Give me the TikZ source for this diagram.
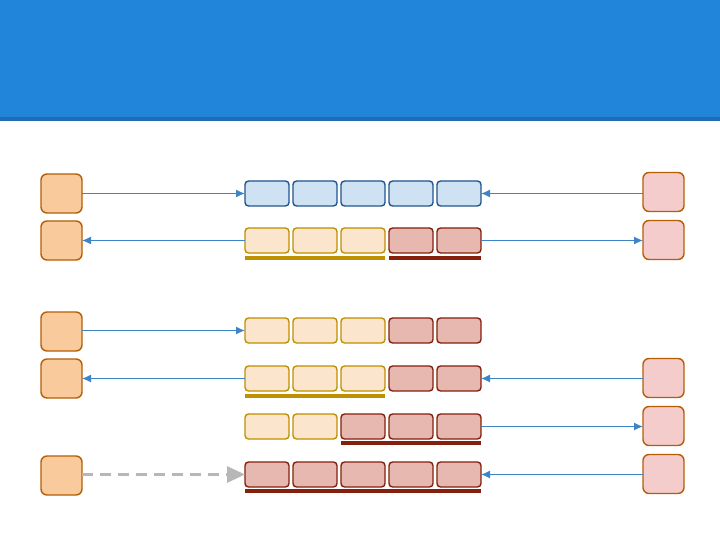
\documentclass[tikz,border=0pt]{standalone}
\usetikzlibrary{arrows.meta}
\definecolor{hdr}{RGB}{33,133,217}
\definecolor{hdrdark}{RGB}{30,108,180}
\definecolor{bluefill}{RGB}{207,226,243}
\definecolor{blueline}{RGB}{31,85,140}
\definecolor{yelfill}{RGB}{252,229,205}
\definecolor{yelline}{RGB}{191,144,0}
\definecolor{redfill}{RGB}{230,184,175}
\definecolor{redline}{RGB}{133,32,12}
\definecolor{orfill}{RGB}{249,203,156}
\definecolor{orline}{RGB}{180,95,6}
\definecolor{pinkfill}{RGB}{244,204,204}
\definecolor{arr}{RGB}{61,133,198}
\definecolor{dgray}{RGB}{183,183,183}
\tikzset{
  seg/.style={rounded corners=3.5pt, line width=1.4pt, minimum width=44pt, minimum height=25pt, inner sep=0pt, outer sep=0pt},
  bseg/.style={seg, draw=blueline, fill=bluefill},
  yseg/.style={seg, draw=yelline, fill=yelfill},
  rseg/.style={seg, draw=redline, fill=redfill},
  ebox/.style={rounded corners=6pt, line width=1.4pt, minimum width=41pt, minimum height=39pt, inner sep=0pt, outer sep=0pt, draw=orline},
  lbox/.style={ebox, fill=orfill},
  rbox/.style={ebox, fill=pinkfill},
  conn/.style={draw=arr, line width=1.3pt, -{Latex[length=9pt,width=8pt]}},
  dconn/.style={draw=dgray, line width=3pt, dash pattern=on 11pt off 7pt, -{Triangle[length=18pt,width=16pt]}},
  yul/.style={draw=yelline, line width=3.2pt},
  rul/.style={draw=redline, line width=3.2pt}
}
\begin{document}
\begin{tikzpicture}[x=1pt,y=-1pt]
\useasboundingbox (0,0) rectangle (720,540);
\fill[white] (0,0) rectangle (720,540);
\fill[hdr] (0,0) rectangle (720,117);
\fill[hdrdark] (0,117) rectangle (720,121);

% left boxes
\node[lbox] (L1) at (61.5,193.5) {};
\node[lbox] (L2) at (61.5,240.5) {};
\node[lbox] (L3) at (61.5,331.5) {};
\node[lbox] (L4) at (61.5,378.5) {};
\node[lbox] (L6) at (61.5,475.5) {};
% right boxes
\node[rbox] (R1) at (663.5,192) {};
\node[rbox] (R2) at (663.5,240) {};
\node[rbox] (R4) at (663.5,378) {};
\node[rbox] (R5) at (663.5,426) {};
\node[rbox] (R6) at (663.5,474) {};

% row 1
\node[bseg] (a1) at (267,193.5) {};
\node[bseg] (a2) at (315,193.5) {};
\node[bseg] (a3) at (363,193.5) {};
\node[bseg] (a4) at (411,193.5) {};
\node[bseg] (a5) at (459,193.5) {};
% row 2
\node[yseg] (b1) at (267,240.5) {};
\node[yseg] (b2) at (315,240.5) {};
\node[yseg] (b3) at (363,240.5) {};
\node[rseg] (b4) at (411,240.5) {};
\node[rseg] (b5) at (459,240.5) {};
% row 3
\node[yseg] (c1) at (267,330.5) {};
\node[yseg] (c2) at (315,330.5) {};
\node[yseg] (c3) at (363,330.5) {};
\node[rseg] (c4) at (411,330.5) {};
\node[rseg] (c5) at (459,330.5) {};
% row 4
\node[yseg] (d1) at (267,378.5) {};
\node[yseg] (d2) at (315,378.5) {};
\node[yseg] (d3) at (363,378.5) {};
\node[rseg] (d4) at (411,378.5) {};
\node[rseg] (d5) at (459,378.5) {};
% row 5
\node[yseg] (e1) at (267,426.5) {};
\node[yseg] (e2) at (315,426.5) {};
\node[rseg] (e3) at (363,426.5) {};
\node[rseg] (e4) at (411,426.5) {};
\node[rseg] (e5) at (459,426.5) {};
% row 6
\node[rseg] (f1) at (267,474.5) {};
\node[rseg] (f2) at (315,474.5) {};
\node[rseg] (f3) at (363,474.5) {};
\node[rseg] (f4) at (411,474.5) {};
\node[rseg] (f5) at (459,474.5) {};

% underlines
\draw[yul] (b1.south west |- 0,258) -- (b3.south east |- 0,258);
\draw[rul] (b4.south west |- 0,258) -- (b5.south east |- 0,258);
\draw[yul] (d1.south west |- 0,396) -- (d3.south east |- 0,396);
\draw[rul] (e3.south west |- 0,443) -- (e5.south east |- 0,443);
\draw[rul] (f1.south west |- 0,491) -- (f5.south east |- 0,491);

% connectors
\draw[conn] (L1.east |- a1.west) -- (a1.west);
\draw[conn] (R1.west |- a5.east) -- (a5.east);
\draw[conn] (b1.west) -- (L2.east |- b1.west);
\draw[conn] (b5.east) -- (R2.west |- b5.east);
\draw[conn] (L3.east |- c1.west) -- (c1.west);
\draw[conn] (d1.west) -- (L4.east |- d1.west);
\draw[conn] (R4.west |- d5.east) -- (d5.east);
\draw[conn] (e5.east) -- (R5.west |- e5.east);
\draw[dconn] (L6.east |- f1.west) -- (f1.west);
\draw[conn] (R6.west |- f5.east) -- (f5.east);
\end{tikzpicture}
\end{document}
